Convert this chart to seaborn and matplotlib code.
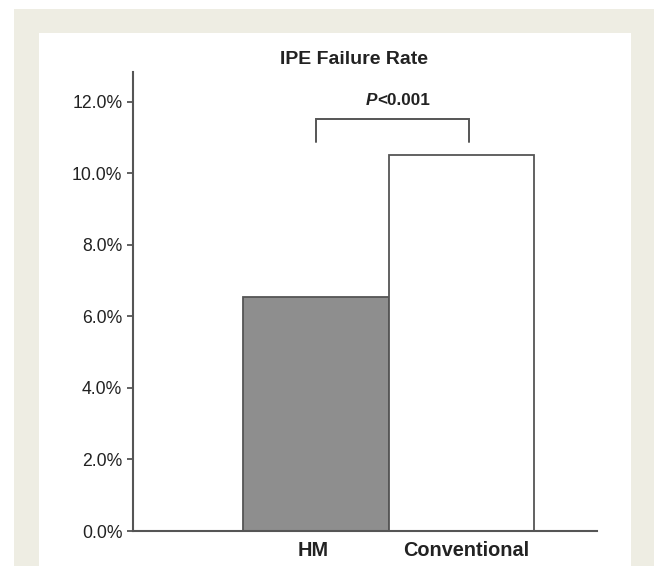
import matplotlib
matplotlib.use("Agg")
import matplotlib.pyplot as plt
from matplotlib.patches import Rectangle
from matplotlib.ticker import FuncFormatter
from matplotlib.transforms import ScaledTranslation
import seaborn as sns
import pandas as pd

categories = ["HM", "Conventional"]
rates = [6.55, 10.5]
bar_colors = ["#8e8e8e", "#ffffff"]
yticks = [0, 2, 4, 6, 8, 10, 12]
title = "IPE Failure Rate"
p_label = ("P", "<0.001")

sns.set_style("white")
plt.rcParams["font.family"] = ["Liberation Sans", "DejaVu Sans"]

W, H = 656, 566
fig = plt.figure(figsize=(W / 100, H / 100), dpi=100)
fig.patch.set_facecolor("white")
# beige frame and white inner panel
fig.patches.append(Rectangle((14 / W, 0), (654 - 14) / W, (566 - 9) / H,
                             transform=fig.transFigure, facecolor="#eeede3",
                             edgecolor="none", zorder=-2))
fig.patches.append(Rectangle((39 / W, 0), (631 - 39) / W, (566 - 33) / H,
                             transform=fig.transFigure, facecolor="white",
                             edgecolor="none", zorder=-1))

ax = fig.add_axes([133 / W, 1 - 531 / H, (597 - 133) / W, (531 - 72) / H])
ax.set_zorder(1)
ax.set_facecolor("none")

df = pd.DataFrame({"group": categories, "rate": rates})
sns.barplot(data=df, x="group", y="rate", hue="group", palette=bar_colors,
            width=1.0, edgecolor="#555555", linewidth=1.3, legend=False,
            ax=ax, zorder=2)

ax.set_xlim(-1.259, 1.934)
ax.set_ylim(0, 12.83)
ax.set_yticks(yticks)
ax.yaxis.set_major_formatter(FuncFormatter(lambda v, p: f"{v:.1f}%"))
ax.set_xlabel("")
ax.set_ylabel("")

for s in ["top", "right"]:
    ax.spines[s].set_visible(False)
for s in ["left", "bottom"]:
    ax.spines[s].set_color("#555555")
    ax.spines[s].set_linewidth(1.5)
    ax.spines[s].set_zorder(3)

ax.tick_params(axis="y", direction="out", length=4.5, width=1.3, color="#555555",
               labelsize=12.7, labelcolor="#222222", pad=3.2, left=True)
ax.tick_params(axis="x", length=0, pad=7.5, labelsize=14.3, labelcolor="#222222")
x_shift_px = [-2.5, 5]
for lbl, dx in zip(ax.get_xticklabels(), x_shift_px):
    lbl.set_fontweight("bold")
    lbl.set_transform(lbl.get_transform() +
                      ScaledTranslation(dx / 100, 0, fig.dpi_scale_trans))

# significance bracket
bx0, bx1, by0, by1 = 0.0, 1.055, 10.88, 11.53
ax.plot([bx0, bx0, bx1, bx1], [by0, by1, by1, by0], color="#555555",
        lw=1.4, solid_joinstyle="miter", clip_on=False, zorder=3)
ax.text(0.42, 12.03, p_label[0], ha="right", va="center", fontsize=12.3,
        fontweight="bold", fontstyle="italic", color="#222222")
ax.text(0.42, 12.03, p_label[1], ha="left", va="center", fontsize=12.3,
        fontweight="bold", color="#222222")

fig.text(354 / W, 1 - 60 / H, title, ha="center", va="center", fontsize=14,
         fontweight="bold", color="#222222")

fig.savefig("out.png", dpi=100)
